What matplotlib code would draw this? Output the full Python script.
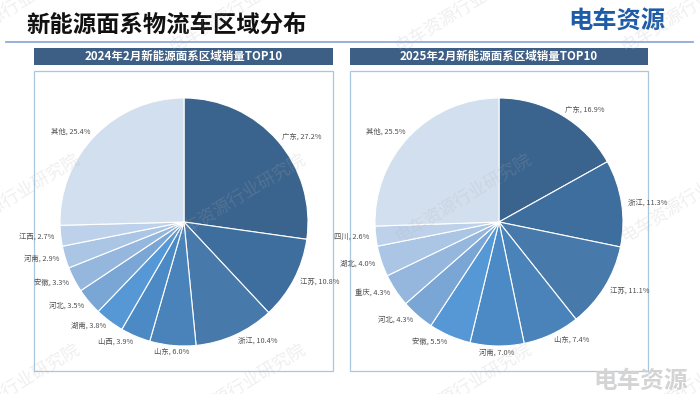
import numpy as np
import matplotlib
matplotlib.use("Agg")
import matplotlib.pyplot as plt
from matplotlib.patches import Rectangle
from matplotlib.lines import Line2D

plt.rcParams['font.family'] = ['Noto Sans CJK SC', 'DejaVu Sans']

title = "新能源面系物流车区域分布"
left_title = "2024年2月新能源面系区域销量TOP10"
right_title = "2025年2月新能源面系区域销量TOP10"

left_regions = ["广东", "江苏", "浙江", "山东", "山西", "湖南", "河北", "安徽", "河南", "江西", "其他"]
left_values = [27.2, 10.8, 10.4, 6.0, 3.9, 3.8, 3.5, 3.3, 2.9, 2.7, 25.4]

right_regions = ["广东", "浙江", "江苏", "山东", "河南", "安徽", "河北", "重庆", "湖北", "四川", "其他"]
right_values = [16.9, 11.3, 11.1, 7.4, 7.0, 5.5, 4.3, 4.3, 4.0, 2.6, 25.5]

palette = ["#3a648e", "#3e6e9e", "#4779aa", "#4a83ba", "#4b8ac4", "#5698d5",
           "#7aa6d6", "#96b7dd", "#abc5e4", "#bed1ea", "#d2dfee"]

W, H = 700, 394
fig = plt.figure(figsize=(W / 100, H / 100), dpi=100)
fig.patch.set_facecolor("white")


def fx(x):
    return x / W


def fy(y):
    return 1 - y / H


# title
fig.text(fx(26), fy(25), title, fontsize=16.8, fontweight="bold", color="#111111",
         ha="left", va="center")
# logo
fig.text(fx(617), fy(22), "电车资源", fontsize=17.5, fontweight="bold", color="#1f5ca8",
         ha="center", va="center")
# underline
fig.add_artist(Line2D([fx(6), fx(693)], [fy(42), fy(42)], color="#8eaad6", lw=1.3))

# headers and frames
for x0, x1, txt in [(34, 333, left_title), (350, 648, right_title)]:
    fig.add_artist(Rectangle((fx(x0), fy(65)), fx(x1) - fx(x0), fy(48) - fy(65),
                             facecolor="#3d5f86", edgecolor="none"))
    fig.text(fx((x0 + x1) / 2), fy(56.5), txt, fontsize=8.3, fontweight="bold",
             color="white", ha="center", va="center")
    fig.add_artist(Rectangle((fx(x0), fy(371)), fx(x1) - fx(x0), fy(71) - fy(371),
                             facecolor="none", edgecolor="#a9c7df", lw=0.9, zorder=-1))

R = 124
L = 1.45


def draw_pie(cx, cy, regions, values):
    half = R * L
    ax = fig.add_axes([fx(cx - half), fy(cy + half), 2 * half / W, 2 * half / H])
    ax.patch.set_visible(False)
    labels = [f"{r}, {v:.1f}%" for r, v in zip(regions, values)]
    wedges, texts = ax.pie(values, labels=labels, colors=palette, startangle=90,
                           counterclock=False, labeldistance=1.05,
                           wedgeprops=dict(edgecolor="white", linewidth=0.8),
                           textprops=dict(fontsize=5.3, color="#505050"))
    for w, t in zip(wedges, texts):
        ang = np.deg2rad((w.theta1 + w.theta2) / 2)
        if abs(np.cos(ang)) < 0.15:
            t.set_ha("center")
    ax.set_xlim(-L, L)
    ax.set_ylim(-L, L)
    ax.set_aspect("equal")
    ax.axis("off")


draw_pie(184, 222, left_regions, left_values)
draw_pie(499, 222, right_regions, right_values)

# watermarks
for cxw in [11, 237, 463, 689]:
    for cyw in [7, 197, 387]:
        fig.text(fx(cxw), fy(cyw), "电车资源行业研究院", fontsize=12.5, color="#b0b0b0",
                 alpha=0.2, rotation=31, ha="center", va="center",
                 rotation_mode="anchor", zorder=10)

fig.text(fx(641), fy(381), "电车资源", fontsize=17, fontweight="bold", color="#d4d4d4",
         ha="center", va="center")

fig.savefig("out.png", dpi=100)
